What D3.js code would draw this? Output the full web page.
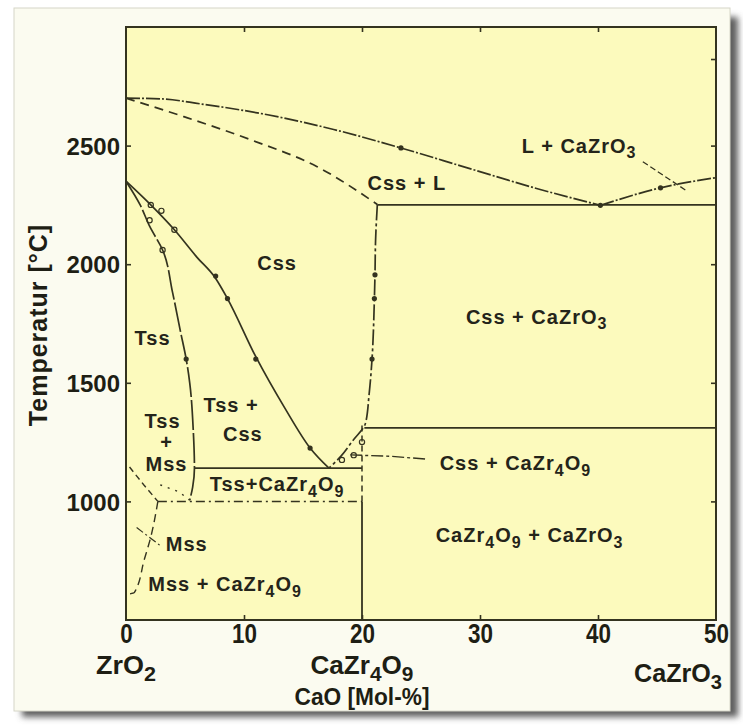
<!DOCTYPE html>
<html><head><meta charset="utf-8">
<script src="https://cdn.jsdelivr.net/npm/d3@7"></script>
<style>body{margin:0;background:#fff}svg{display:block}</style>
</head><body><svg id="c" width="743" height="726"></svg>
<script>
// ---------- data ----------
const xTicks = [0, 10, 20, 30, 40, 50];
const yTicks = [1000, 1500, 2000, 2500];
const rightExtraTicks = [2865];
const xDomain = [0, 50];
const yDomain = [500, 3000];

const liquidusZrO2Side = [[0,2700],[3,2697],[6.3,2676],[12,2630],[17.6,2568],[23.3,2490],[29,2405],[35.1,2315],[40.2,2248]];
const liquidusCaZrO3Side = [[40.2,2248],[45.3,2322],[50,2365]];
const cssSolidus = [[0,2700],[4.9,2622],[10.6,2524],[16.2,2411],[21.3,2252]];
const cssSolvusRight = [[21.3,2252],[21.15,2100],[21.1,1955],[21.05,1855],[20.85,1600],[20.6,1450],[20.3,1330],[19.2,1255],[18.2,1190],[17.2,1140]];
const tssCssBoundary = [[0,2350],[2.1,2250],[4.1,2145],[6,2030],[7.6,1940],[8.6,1855],[11,1610],[13.5,1390],[15.6,1225],[17.2,1140]];
const tssBoundary = [[0,2350],[1.2,2250],[2.0,2160],[3.1,2060],[3.95,1880],[4.6,1720],[5.1,1600],[5.4,1500],[5.7,1300],[5.8,1140],[5.65,1060],[5.4,1005]];
const mssUpper = [[0.3,1145],[1.5,1070],[2.7,1000]];
const mssLower = [[2.7,1000],[2.1,850],[1.55,755],[0.7,615],[0.3,610]];
const tssMssLower = [[2.9,1070],[4.5,1040],[5.4,1005]];
const mssLeader = [[0.9,890],[3.0,810]];
const cssCaZr4O9Leader = [[19.0,1196],[22.5,1190],[25.5,1178]];
const lCaZrO3Line = [[43.8,2432],[47.4,2313]];
// isotherms: [temperature, from, to]
const solidIsotherms = [[2250,21.3,50],[1310,20.2,50],[1140,5.8,20]];
const dashDotIsotherms = [[1000,2.7,20]];
// compound line CaZr4O9 at 20 mol-%
const compoundSolid = [[20,500],[20,1000]];
const compoundDashed = [[20,1000],[20,1330]];

const filledDots = [[7.6,1950],[8.6,1855],[11,1600],[15.6,1225],[5.1,1600],[21.1,1955],[21.05,1855],[20.85,1600],[40.2,2248],[45.3,2322],[23.3,2490]];
const openCircles = [[2.1,2250],[3.0,2225],[4.1,2145],[2.0,2185],[3.1,2060],[18.3,1175],[19.3,1195],[20.0,1250]];

// region labels: text ("_" = subscript), composition, temperature
const regionLabels = [
  ["L + CaZrO_3", 38.4, 2500],
  ["Css + L", 23.8, 2342],
  ["Css", 12.8, 2007],
  ["Css + CaZrO_3", 34.8, 1779],
  ["Tss", 2.25, 1691],
  ["Tss +", 8.9, 1408],
  ["Css", 9.9, 1286],
  ["Tss", 3.1, 1339],
  ["+", 3.45, 1252],
  ["Mss", 3.43, 1160],
  ["Tss+CaZr_4O_9", 12.8, 1073],
  ["Css + CaZr_4O_9", 33.0, 1162],
  ["Mss", 5.15, 823],
  ["Mss + CaZr_4O_9", 8.4, 652],
  ["CaZr_4O_9 + CaZrO_3", 34.2, 858]
];
const compounds = [["ZrO_2", 0], ["CaZr_4O_9", 20], ["CaZrO_3", 50]];
const xTitle = "CaO [Mol-%]";
const yTitle = "Temperatur [°C]";

// ---------- drawing ----------
const svg = d3.select("#c");
const ink = "#34331f";
const pL = 126, pR = 716, pT = 27, pB = 620;
const x = d3.scaleLinear().domain(xDomain).range([pL, pR]);
const y = d3.scaleLinear().domain(yDomain).range([pB, pT]);

const defs = svg.append("defs");
const f = defs.append("filter").attr("id","sh").attr("x","-5%").attr("y","-5%").attr("width","110%").attr("height","110%");
f.append("feGaussianBlur").attr("stdDeviation", 3);

// panel + shadow
svg.append("rect").attr("x",22).attr("y",17).attr("width",716).attr("height",700).attr("fill","#5e5e5e").attr("filter","url(#sh)");
svg.append("rect").attr("x",14).attr("y",8).attr("width",716).attr("height",703).attr("fill","#fbfbf0").attr("stroke","#d6d6c8");

// plot area
svg.append("rect").attr("x",pL).attr("y",pT).attr("width",pR-pL).attr("height",pB-pT).attr("fill","#fcfabd");

function addText(sel, str, size) {
  const parts = str.split(/(_\w)/).filter(s => s.length);
  let sub = false;
  parts.forEach(p => {
    if (p.startsWith("_")) {
      sel.append("tspan").attr("dy", size*0.28).attr("font-size", size*0.8).text(p.slice(1));
      sub = true;
    } else {
      const t = sel.append("tspan").text(p);
      if (sub) { t.attr("dy", -size*0.28); sub = false; }
    }
  });
}

const line = d3.line().x(d => x(d[0])).y(d => y(d[1]));
function draw(data, curve, dash, w) {
  svg.append("path").datum(data)
    .attr("d", line.curve(curve)(data))
    .attr("fill","none").attr("stroke",ink).attr("stroke-width",w||1.6)
    .attr("stroke-dasharray", dash||null).attr("stroke-linejoin","round");
}

draw(liquidusZrO2Side, d3.curveMonotoneX, "14,2,2,2", 1.7);
draw(liquidusCaZrO3Side, d3.curveMonotoneX, "14,2,2,2", 1.7);
draw(cssSolidus, d3.curveMonotoneX, "9,6", 1.7);
draw(cssSolvusRight, d3.curveMonotoneY, "16,3,3,3", 1.7);
draw(tssCssBoundary, d3.curveMonotoneX, null, 1.7);
draw(tssBoundary, d3.curveMonotoneY, "30,3", 1.7);
draw(mssUpper, d3.curveLinear, "6,4", 1.4);
draw(mssLower, d3.curveMonotoneY, "8,5", 1.4);
draw(tssMssLower, d3.curveLinear, "2,6", 1.4);
draw(mssLeader, d3.curveLinear, "8,3,2,3", 1.2);
draw(cssCaZr4O9Leader, d3.curveLinear, "12,3,3,3", 1.4);
draw(lCaZrO3Line, d3.curveLinear, "6,3", 1.3);
solidIsotherms.forEach(d => draw([[d[1],d[0]],[d[2],d[0]]], d3.curveLinear, null, 1.8));
dashDotIsotherms.forEach(d => draw([[d[1],d[0]],[d[2],d[0]]], d3.curveLinear, "9,4,2,4", 1.5));
draw(compoundSolid, d3.curveLinear, null, 1.8);
draw(compoundDashed, d3.curveLinear, "6,4", 1.5);

svg.selectAll(".dot").data(filledDots).join("circle")
  .attr("cx", d => x(d[0])).attr("cy", d => y(d[1])).attr("r", 2.6).attr("fill", ink);
svg.selectAll(".oc").data(openCircles).join("circle")
  .attr("cx", d => x(d[0])).attr("cy", d => y(d[1])).attr("r", 2.6)
  .attr("fill","none").attr("stroke", ink).attr("stroke-width", 1.2);

// frame
svg.append("rect").attr("x",pL).attr("y",pT).attr("width",pR-pL).attr("height",pB-pT)
  .attr("fill","none").attr("stroke",ink).attr("stroke-width",2);

// axes (inward ticks)
const inner = xTicks.filter(v => v > xDomain[0] && v < xDomain[1]);
const gB = svg.append("g").attr("transform",`translate(0,${pB})`)
  .call(d3.axisBottom(x).tickValues(xTicks).tickSize(-5).tickPadding(4).tickFormat(d3.format("d")));
const gT = svg.append("g").attr("transform",`translate(0,${pT})`)
  .call(d3.axisTop(x).tickValues(inner).tickSize(-5).tickFormat(""));
const gL = svg.append("g").attr("transform",`translate(${pL},0)`)
  .call(d3.axisLeft(y).tickValues(yTicks).tickSize(-5).tickPadding(6).tickFormat(d3.format("d")));
const gR = svg.append("g").attr("transform",`translate(${pR},0)`)
  .call(d3.axisRight(y).tickValues(yTicks.concat(rightExtraTicks)).tickSize(-5).tickFormat(""));
[gB,gT,gL,gR].forEach(g => {
  g.select(".domain").remove();
  g.selectAll(".tick line").attr("stroke", ink).attr("stroke-width", 1.6);
});
gB.selectAll(".tick").filter(d => d === 0 || d === 50).select("line").remove();
gL.selectAll("text").attr("font-family","Liberation Sans, Arial, sans-serif").attr("font-weight","bold")
  .attr("font-size",24).attr("fill","#1e1e14").attr("dy","0.36em");
gB.selectAll("text").attr("font-family","Liberation Sans, Arial, sans-serif").attr("font-weight","bold")
  .attr("font-size",27).attr("fill","#1e1e14").attr("dy","0.72em")
  .attr("textLength", d => String(d).length * 12.5).attr("lengthAdjust","spacingAndGlyphs");

// region labels
regionLabels.forEach(([t, cx, cy]) => {
  const tx = svg.append("text").attr("x", x(cx)).attr("y", y(cy)).attr("dy","0.36em")
    .attr("text-anchor","middle").attr("font-family","Liberation Sans, Arial, sans-serif")
    .attr("font-weight","bold").attr("font-size",20).attr("letter-spacing",1).attr("fill","#24241a");
  addText(tx, t, 20);
});

// compound labels below axis
compounds.forEach(([t, cx], i) => {
  const tx = svg.append("text").attr("x", i === 2 ? x(cx) + 6 : x(cx)).attr("y", i === 2 ? 682 : 674)
    .attr("text-anchor", i === 2 ? "end" : "middle").attr("font-family","Liberation Sans, Arial, sans-serif")
    .attr("font-size",25).attr("font-weight","bold").attr("fill","#1e1e14")
    .attr("textLength", [60, 103, 88][i]).attr("lengthAdjust","spacingAndGlyphs");
  addText(tx, t, 25);
});
svg.append("text").attr("x", x(20)).attr("y", 705).attr("text-anchor","middle")
  .attr("font-family","Liberation Sans, Arial, sans-serif").attr("font-size",24).attr("font-weight","bold").attr("fill","#1e1e14")
  .attr("textLength",135).attr("lengthAdjust","spacingAndGlyphs").text(xTitle);
svg.append("text").attr("transform","translate(47,325) rotate(-90)").attr("text-anchor","middle")
  .attr("font-family","Liberation Sans, Arial, sans-serif").attr("font-weight","bold").attr("font-size",25)
  .attr("letter-spacing",1).attr("fill","#1e1e14").text(yTitle);
</script></body></html>
